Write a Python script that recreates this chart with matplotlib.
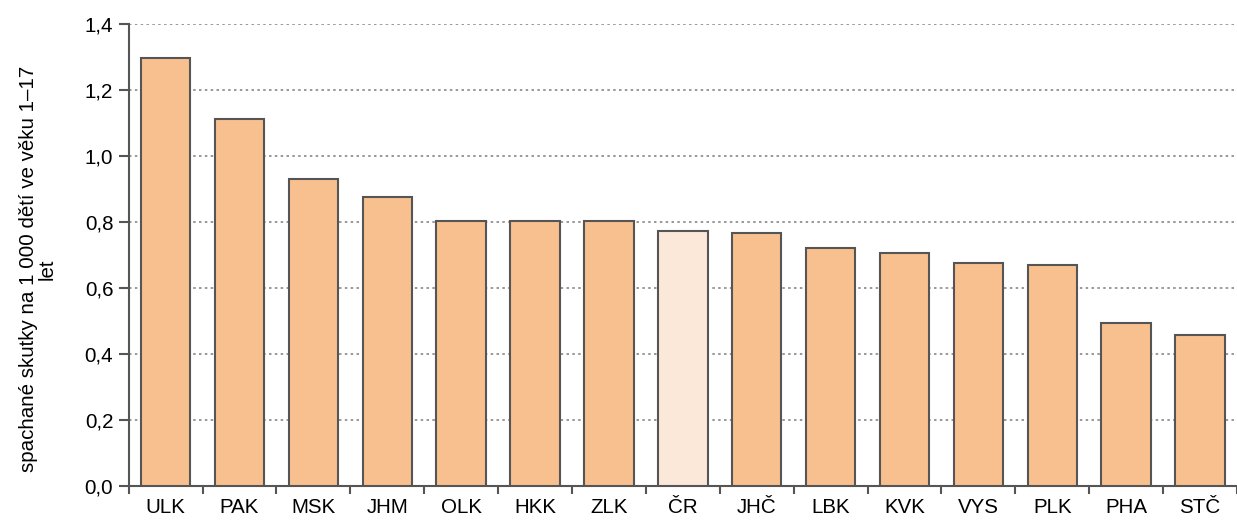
import matplotlib
matplotlib.use("Agg")
import matplotlib.pyplot as plt
from matplotlib.ticker import FuncFormatter, FixedLocator

plt.rcParams['font.family'] = ['Liberation Sans', 'DejaVu Sans']

regions = ["ULK", "PAK", "MSK", "JHM", "OLK", "HKK", "ZLK", "ČR", "JHČ", "LBK", "KVK", "VYS", "PLK", "PHA", "STČ"]
values = [1.297, 1.112, 0.930, 0.876, 0.803, 0.803, 0.803, 0.773, 0.767, 0.721, 0.706, 0.676, 0.670, 0.494, 0.458]
highlight = "ČR"

fig = plt.figure(figsize=(12.37, 5.22), dpi=100)
ax = fig.add_axes([0.104, 0.069, 0.896, 0.885])

colors = ["#FCE8D9" if r == highlight else "#F9C08F" for r in regions]
x = range(len(regions))
ax.bar(x, values, width=0.67, color=colors, edgecolor="#555555", linewidth=1.5, zorder=3)

ax.set_xlim(-0.5, len(regions) - 0.5)
ax.set_ylim(0, 1.4)
ax.set_yticks([0, 0.2, 0.4, 0.6, 0.8, 1.0, 1.2, 1.4])
ax.yaxis.set_major_formatter(FuncFormatter(lambda v, p: f"{v:.1f}".replace(".", ",")))
ax.set_xticks(list(x))
ax.set_xticklabels(regions)
ax.xaxis.set_minor_locator(FixedLocator([i + 0.5 for i in range(-1, len(regions))]))
ax.tick_params(axis="x", which="major", length=0, pad=9, labelsize=14.8)
ax.tick_params(axis="x", which="minor", length=6, width=1.5, color="#555555", direction="out")
ax.tick_params(axis="y", length=7, width=1.5, color="#555555", labelsize=14.8, pad=4)

ax.grid(axis="y", linestyle=(0, (1.5, 2)), color="#888888", linewidth=1.2, zorder=0)
for s in ["top", "right"]:
    ax.spines[s].set_visible(False)
for s in ["left", "bottom"]:
    ax.spines[s].set_color("#555555")
    ax.spines[s].set_linewidth(1.5)

ax.set_ylabel("spachané skutky na 1 000 dětí ve věku 1–17\nlet", fontsize=14.8, linespacing=0.95)
ax.yaxis.set_label_coords(-0.065, 0.47)

fig.savefig("out.png", dpi=100)
